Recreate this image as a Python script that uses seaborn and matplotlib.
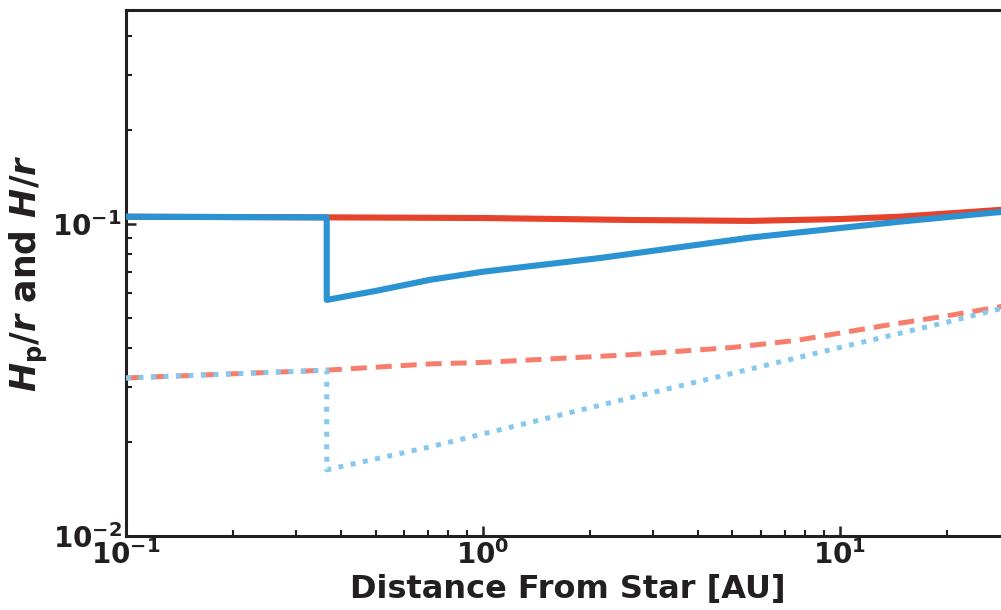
import numpy as np
import pandas as pd
import matplotlib
matplotlib.use("Agg")
import matplotlib.pyplot as plt
import seaborn as sns

# Gas scale height H/r (solid red)
gas_x = [0.1, 0.365, 1.0, 2.58, 5.6, 10.0, 14.7, 30.0]
gas_y = [0.1055, 0.105, 0.1045, 0.103, 0.1023, 0.1037, 0.1055, 0.1115]

# Pebble scale height Hp/r (solid blue)
peb_x = [0.1, 0.365, 0.365, 0.5, 0.71, 1.0, 2.13, 5.6, 14.7, 30.0]
peb_y = [0.1055, 0.105, 0.0571, 0.061, 0.0662, 0.0703, 0.0778, 0.0904, 0.1017, 0.110]

# Second model gas (dashed salmon)
gas2_x = [0.1, 0.365, 0.71, 1.0, 2.58, 5.0, 7.6, 13.1, 20.0, 30.0]
gas2_y = [0.0321, 0.034, 0.0356, 0.036, 0.0381, 0.0402, 0.0424, 0.0471, 0.0508, 0.055]

# Second model pebbles (dotted light blue)
peb2_x = [0.1, 0.365, 0.365, 0.71, 2.58, 9.38, 20.0, 30.0]
peb2_y = [0.0321, 0.034, 0.0163, 0.0193, 0.0277, 0.0395, 0.0485, 0.0545]

sns.set_style("ticks")
plt.rcParams["font.family"] = ["DejaVu Sans"]
plt.rcParams["font.weight"] = "bold"
plt.rcParams["mathtext.default"] = "bf"

fig = plt.figure(figsize=(10.01, 6.10), dpi=100)
ax = fig.add_axes([126 / 1001, 74 / 610, 0.8834, 526 / 610])

def draw(x, y, color, lw, ls, z):
    df = pd.DataFrame({"x": x, "y": y})
    sns.lineplot(data=df, x="x", y="y", ax=ax, color=color, lw=lw,
                 sort=False, estimator=None, linestyle=ls, zorder=z,
                 solid_capstyle="butt")

draw(gas_x, gas_y, "#e5432b", 4.4, "-", 3)
draw(peb_x, peb_y, "#2b93d1", 4.4, "-", 4)
draw(gas2_x, gas2_y, "#f77e6d", 3.6, (0, (3.2, 1.8)), 3)
draw(peb2_x, peb2_y, "#86c8ee", 3.6, (0, (1.0, 1.5)), 4)

ax.set_xscale("log")
ax.set_yscale("log")
ax.set_xlim(0.1, 30)
ax.set_ylim(0.01, 0.485)

for side in ["left", "bottom", "top", "right"]:
    ax.spines[side].set_linewidth(2.2)
    ax.spines[side].set_color("#231f20")

ax.tick_params(which="major", direction="in", length=7, width=1.8,
               color="#231f20", labelsize=20, pad=3, top=False, right=False)
ax.tick_params(which="minor", direction="in", length=4.5, width=1.5,
               color="#231f20", top=False, right=False)
for lab in ax.get_xticklabels() + ax.get_yticklabels():
    lab.set_fontweight("bold")
    lab.set_color("#231f20")

ax.set_xlabel("Distance From Star [AU]", fontsize=23, fontweight="bold",
              color="#231f20", labelpad=3)
ax.set_ylabel(r"$\boldsymbol{H}_\mathbf{p}/\boldsymbol{r}$ and $\boldsymbol{H}/\boldsymbol{r}$",
              fontsize=25, fontweight="bold", color="#231f20", labelpad=2)

fig.savefig("out.png", dpi=100)
